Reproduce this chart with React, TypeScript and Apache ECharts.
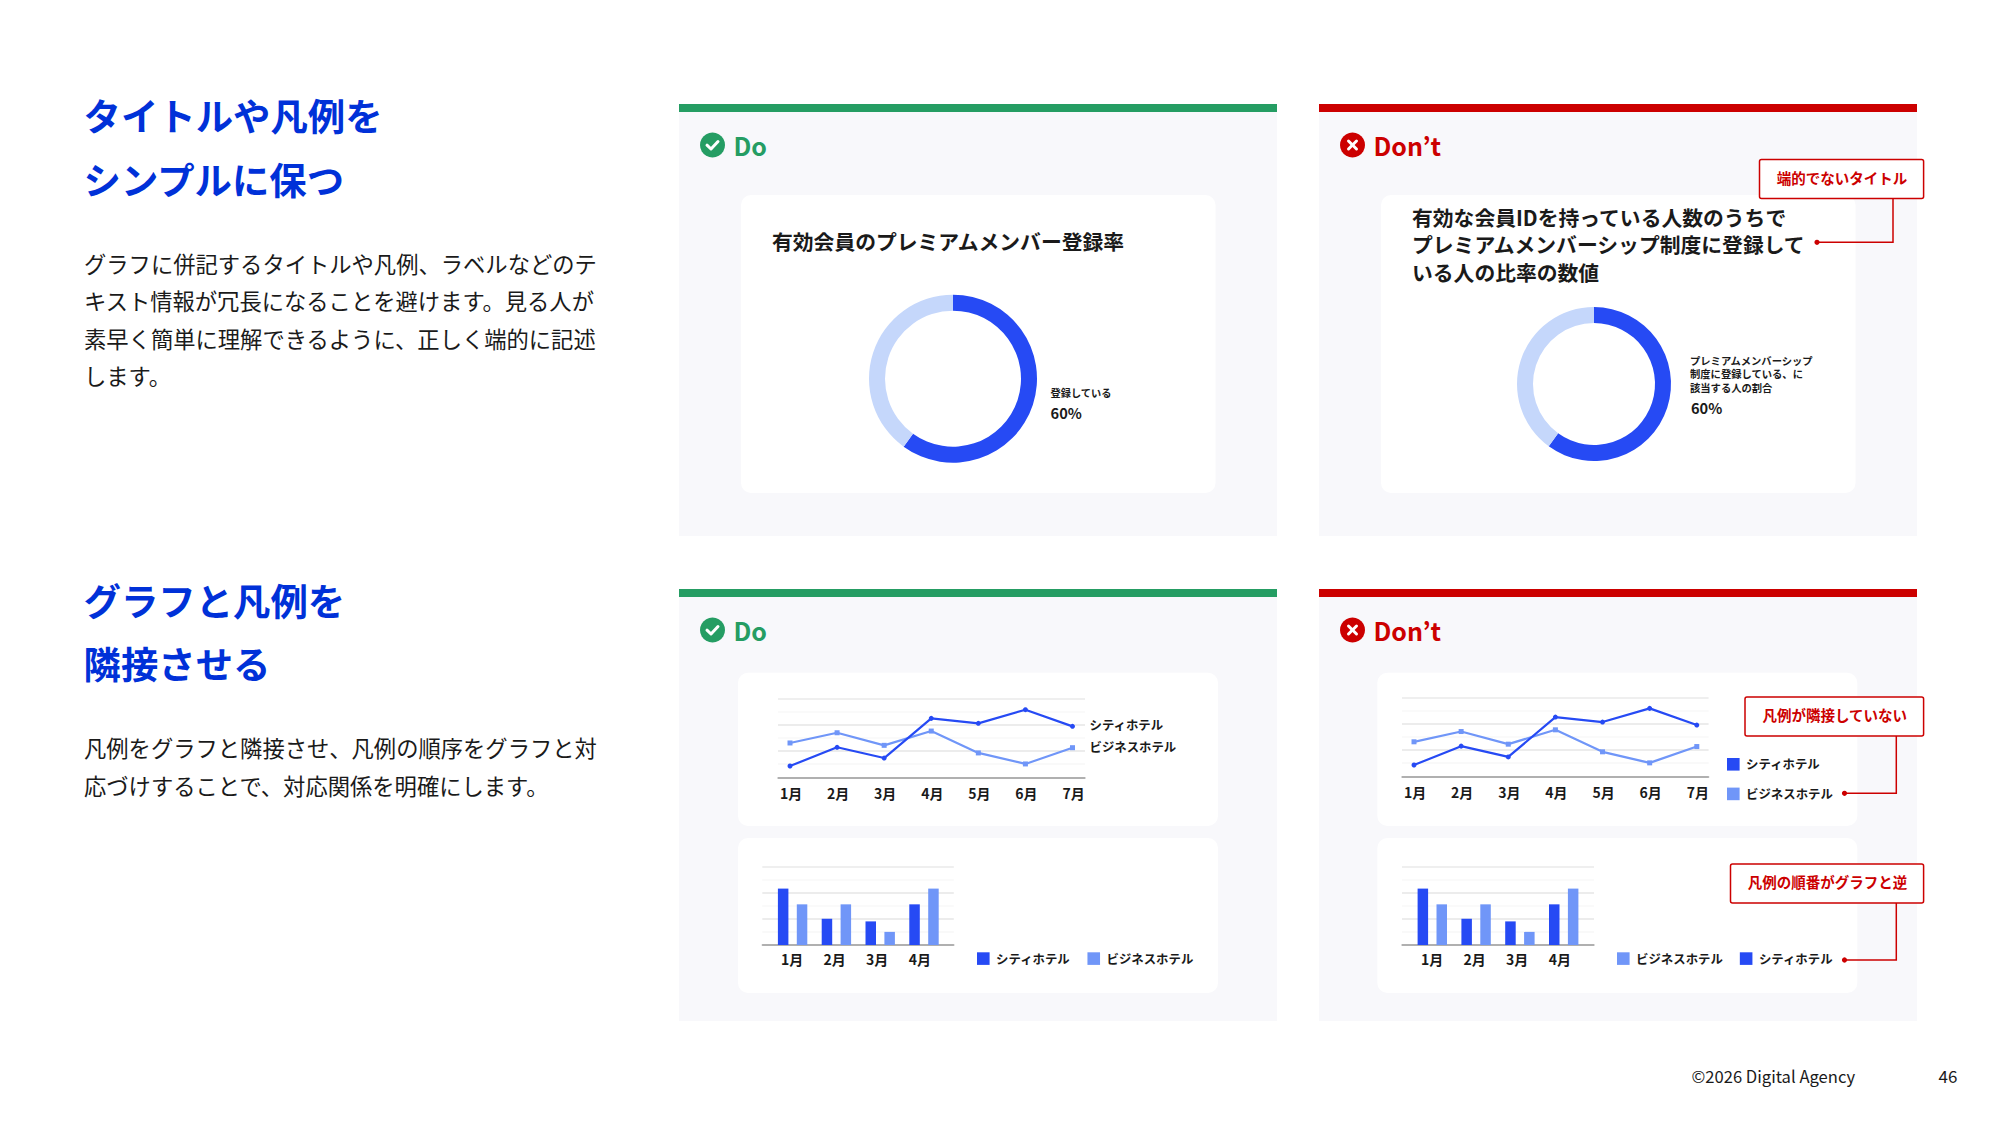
import React, { useEffect, useRef } from "react";
import * as echarts from "echarts";

const FONT = '"Noto Sans CJK JP", "Noto Sans", sans-serif';
const BLUE = "#264AF4";
const LIGHT = "#7096F8";
const PALE = "#C5D7FB";
const GREEN = "#259D63";
const RED = "#CC0000";
const INK = "#1A1A1A";
const HEAD = "#0031D8";

const CITY = "シティホテル";
const BIZ = "ビジネスホテル";
const lineMonths = ["1月", "2月", "3月", "4月", "5月", "6月", "7月"];
const barMonths = ["1月", "2月", "3月", "4月"];
const lineCity = [8.6, 22.9, 14.7, 45, 41.2, 51.6, 38.9];
const lineBiz = [26.2, 34, 24.4, 35.3, 18.6, 10.2, 22.6];
const barCity = [43, 20, 18, 31];
const barBiz = [31, 31, 10, 43];
const donutShare = [60, 40];
const gridColors = ["#ABABAB", "#F7F7F7", "#E6E6E6", "#F8F8F8", "#E6E6E6", "#F8F8F8", "#EAEAEA"];

const heading1 = ["タイトルや凡例を", "シンプルに保つ"];
const body1 = [
  "グラフに併記するタイトルや凡例、ラベルなどのテ",
  "キスト情報が冗長になることを避けます。見る人が",
  "素早く簡単に理解できるように、正しく端的に記述",
  "します。",
];
const heading2 = ["グラフと凡例を", "隣接させる"];
const body2 = [
  "凡例をグラフと隣接させ、凡例の順序をグラフと対",
  "応づけすることで、対応関係を明確にします。",
];
const doTitle = "有効会員のプレミアムメンバー登録率";
const dontTitle = [
  "有効な会員IDを持っている人数のうちで",
  "プレミアムメンバーシップ制度に登録して",
  "いる人の比率の数値",
];
const dontDonutLabel = ["プレミアムメンバーシップ", "制度に登録している、に", "該当する人の割合"];

function text(t: string, x: number, y: number, size: number, fill: string, weight: any = "normal", align = "left", z = 5) {
  return {
    type: "text", x, y, z,
    style: {
      text: t, fill, fontSize: size, fontWeight: weight, fontFamily: FONT,
      align, verticalAlign: "middle", textAlign: align, textVerticalAlign: "middle",
    },
  };
}
function rect(x: number, y: number, w: number, h: number, fill: string, r = 0, z = -10, stroke?: string) {
  return {
    type: "rect", z,
    shape: { x, y, width: w, height: h, r },
    style: stroke ? { fill, stroke, lineWidth: 1.5 } : { fill },
  };
}
function panel(x: number, y: number, good: boolean) {
  const color = good ? GREEN : RED;
  const cx = x + 33.5;
  const cy = y + 41;
  const stroke = { stroke: "#fff", lineWidth: 3, fill: "none", lineCap: "round", lineJoin: "round" };
  const mark = good
    ? [{ type: "polyline", z: 6, shape: { points: [[cx - 5.5, cy + 0.2], [cx - 1.5, cy + 4], [cx + 5.5, cy - 3.5]] }, style: stroke }]
    : [
        { type: "line", z: 6, shape: { x1: cx - 4, y1: cy - 4, x2: cx + 4, y2: cy + 4 }, style: stroke },
        { type: "line", z: 6, shape: { x1: cx - 4, y1: cy + 4, x2: cx + 4, y2: cy - 4 }, style: stroke },
      ];
  return [
    rect(x, y, 598, 432, "#F8F8FB", 0, -20),
    rect(x, y, 598, 8, color, 0, -15),
    { type: "circle", z: 5, shape: { cx, cy, r: 12.5 }, style: { fill: color } },
    ...mark,
    text(good ? "Do" : "Don’t", x + 54.5, cy - 0.5, 25, color, "bold"),
  ];
}
function callout(label: string, left: number, top: number, elbowY: number, elbowX: number, dotX: number) {
  const right = 1923.6;
  const h = 39;
  return [
    rect(left, top, right - left, h, "#fff", 2, 9, RED),
    text(label, (left + right) / 2 + 0.5, top + h / 2 - 1.7, 14.5, RED, "bold", "center", 11),
    {
      type: "polyline", z: 9,
      shape: { points: [[elbowX, top + h], [elbowX, elbowY], [dotX, elbowY]] },
      style: { stroke: RED, lineWidth: 1.5, fill: "none" },
    },
    { type: "circle", z: 9, shape: { cx: dotX, cy: elbowY, r: 2.6 }, style: { fill: RED } },
  ];
}

function buildOption() {
  const grid: any[] = [];
  const xAxis: any[] = [];
  const yAxis: any[] = [];
  const barSeries: any[] = [];
  const lineSeries: any[] = [];
  const pieSeries: any[] = [];
  const legend: any[] = [];

  const labelStyle = { fontSize: 14, fontWeight: "bold", fontFamily: FONT, color: INK };
  const off = { axisLine: { show: false }, axisTick: { show: false }, axisLabel: { show: false }, splitLine: { show: false } };
  const addGrid = (left: number, right: number, top: number, bottom: number) => {
    grid.push({ left, top, width: right - left, height: bottom - top, containLabel: false, show: false });
    return grid.length - 1;
  };
  const yOff = (i: number) => yAxis.push({ type: "value", gridIndex: i, min: 0, max: 60, interval: 10, ...off });
  const ySplit = (i: number) =>
    yAxis.push({
      type: "value", gridIndex: i, min: 0, max: 60, interval: 10,
      axisLine: { show: false }, axisTick: { show: false }, axisLabel: { show: false },
      splitLine: { show: true, lineStyle: { color: gridColors, width: 1.5 } },
    });
  const baseline = { show: true, onZero: false, lineStyle: { color: "#ABABAB", width: 1.5 } };

  const addLine = (left: number, right: number, top: number, bottom: number, first: number, last: number, endLabels: boolean) => {
    const i = addGrid(left, right, top, bottom);
    const step = (last - first) / 6;
    xAxis.push({
      type: "value", gridIndex: i,
      min: -(first - left) / step, max: 6 + (right - last) / step,
      axisLine: baseline, axisTick: { show: false }, splitLine: { show: false },
      axisLabel: {
        show: true, margin: 9, padding: [0, 0, 0, 2], ...labelStyle,
        customValues: lineMonths.map((_, k) => k),
        formatter: (v: number) => lineMonths[Math.round(v)],
      },
    });
    ySplit(i);
    const mk = (name: string, vals: number[], color: string, symbol: string, size: number) => ({
      type: "line", name, xAxisIndex: i, yAxisIndex: i, silent: true, z: 4,
      data: vals.map((v, k) => [k, v]),
      symbol, symbolSize: size, showSymbol: true,
      lineStyle: { color, width: 2.2 },
      itemStyle: { color },
      endLabel: endLabels
        ? { show: true, formatter: name, distance: 17, offset: [0, -1], color: INK, fontSize: 12.4, fontWeight: "bold", fontFamily: FONT }
        : { show: false },
    });
    lineSeries.push(mk(BIZ, lineBiz, LIGHT, "rect", 5), mk(CITY, lineCity, BLUE, "circle", 5));
  };

  const addBar = (left: number, right: number, top: number, bottom: number, center0: number, labelCenter0: number) => {
    const period = 43.8;
    const labelPeriod = 42.6;
    const w = addGrid(left, right, top, bottom);
    xAxis.push({ type: "value", gridIndex: w, min: 0, max: 1, axisLine: baseline, axisTick: { show: false }, axisLabel: { show: false }, splitLine: { show: false } });
    ySplit(w);
    const b = addGrid(center0 - period / 2, center0 - period / 2 + period * 4, top, bottom);
    xAxis.push({ type: "category", gridIndex: b, data: barMonths, ...off });
    yOff(b);
    const l = addGrid(labelCenter0 - labelPeriod / 2, labelCenter0 - labelPeriod / 2 + labelPeriod * 4, top, bottom);
    xAxis.push({
      type: "category", gridIndex: l, data: barMonths,
      axisLine: { show: false }, axisTick: { show: false }, splitLine: { show: false },
      axisLabel: { show: true, margin: 7, interval: 0, ...labelStyle },
    });
    yOff(l);
    const mk = (name: string, vals: number[], color: string) => ({
      type: "bar", name, xAxisIndex: b, yAxisIndex: b, silent: true, z: 4,
      data: vals, barWidth: 10.5, barGap: "80%", itemStyle: { color },
    });
    barSeries.push(mk(CITY, barCity, BLUE), mk(BIZ, barBiz, LIGHT));
  };

  const addDonut = (cx: number, cy: number, inner: number, outer: number) => {
    pieSeries.push({
      type: "pie", center: [cx, cy], radius: [inner, outer], startAngle: 90, clockwise: true, silent: true,
      label: { show: false }, labelLine: { show: false }, z: 4,
      data: [
        { value: donutShare[0], name: "登録している", itemStyle: { color: BLUE } },
        { value: donutShare[1], name: "その他", itemStyle: { color: PALE } },
      ],
    });
  };

  const addLegend = (left: number, top: number, orient: string, gap: number, names: string[]) => {
    legend.push({
      left, top, orient, padding: 0, itemGap: gap, itemWidth: 12.6, itemHeight: 12.6, icon: "rect", selectedMode: false,
      data: names,
      textStyle: { color: INK, fontSize: 12.4, fontWeight: "bold", fontFamily: FONT, padding: [0, 0, 2, 1.5] },
    });
  };

  addDonut(953, 378.7, 68, 84);
  addDonut(1594, 384, 61, 77);
  addLine(778, 1085, 698.7, 777.3, 790, 1072.5, true);
  addLine(1402, 1708.6, 697.3, 776.3, 1414, 1696.8, false);
  addBar(762.3, 953.8, 866.3, 945, 792.6, 792);
  addBar(1402, 1594, 866.3, 945, 1432.3, 1432);
  addLegend(977, 952.3, "horizontal", 17, [CITY, BIZ]);
  addLegend(1727, 758, "vertical", 17, [CITY, BIZ]);
  addLegend(1617, 952.3, "horizontal", 17, [BIZ, CITY]);

  const graphic: any[] = [
    ...heading1.map((t, i) => text(t, 83.5, 115 + i * 63.5, 37.4, HEAD, "bold")),
    ...body1.map((t, i) => text(t, 84, 262.5 + i * 37.6, 22.3, INK)),
    ...heading2.map((t, i) => text(t, 83.5, 599.5 + i * 63.5, 37.4, HEAD, "bold")),
    ...body2.map((t, i) => text(t, 84, 747.2 + i * 37.6, 22.3, INK)),
    ...panel(679, 104, true),
    ...panel(1319, 104, false),
    ...panel(679, 589, true),
    ...panel(1319, 589, false),
    rect(741, 195, 474.5, 298, "#fff", 10),
    rect(1381, 195, 474.5, 298, "#fff", 10),
    rect(738, 672.7, 480, 153.3, "#fff", 10),
    rect(738, 838, 480, 155, "#fff", 10),
    rect(1377.3, 672.7, 480, 153.3, "#fff", 10),
    rect(1377.3, 838, 480, 155, "#fff", 10),
    text(doTitle, 772, 240.7, 20.8, INK, "bold"),
    ...dontTitle.map((t, i) => text(t, 1412, 216.5 + i * 27.5, 20.8, INK, "bold")),
    text("登録している", 1050.6, 392.5, 10.2, INK, "bold"),
    text("60%", 1050.6, 412, 14.6, INK, "bold"),
    ...dontDonutLabel.map((t, i) => text(t, 1690, 360 + i * 13.7, 10.3, INK, "bold")),
    text("60%", 1691, 407, 14.6, INK, "bold"),
    ...callout("端的でないタイトル", 1759.5, 159.5, 242.3, 1893, 1817),
    ...callout("凡例が隣接していない", 1745, 697, 793.3, 1896.3, 1844.5),
    ...callout("凡例の順番がグラフと逆", 1730.5, 864, 960, 1896.3, 1844.5),
    text("©2026 Digital Agency", 1691.5, 1075.5, 16.6, INK),
    text("46", 1938.5, 1075.5, 17, INK),
  ];

  return {
    animation: false,
    backgroundColor: "#fff",
    grid, xAxis, yAxis, legend, graphic,
    series: [...barSeries, ...lineSeries, ...pieSeries],
  };
}

export default function App() {
  const ref = useRef<HTMLDivElement>(null);
  useEffect(() => {
    document.body.style.margin = "0";
    const chart = echarts.init(ref.current as HTMLDivElement, undefined, { renderer: "svg" });
    chart.setOption(buildOption() as any);
    return () => chart.dispose();
  }, []);
  return <div ref={ref} style={{ width: 2000, height: 1125, position: "absolute", left: 0, top: 0 }} />;
}
